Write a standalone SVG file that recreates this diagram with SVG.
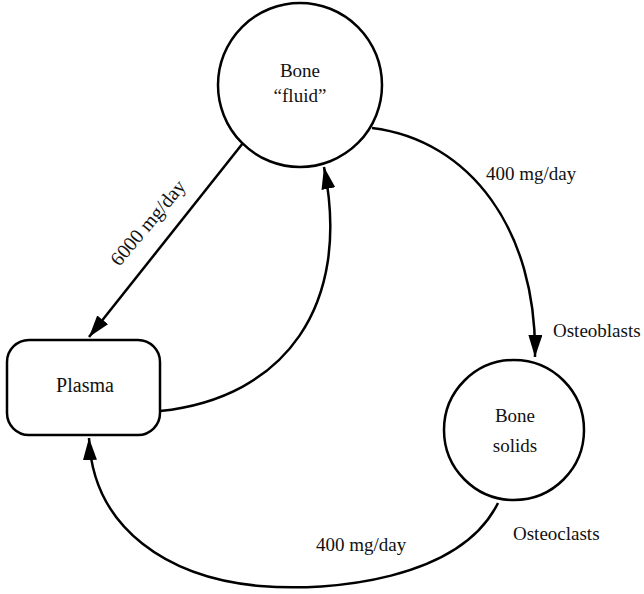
<svg xmlns="http://www.w3.org/2000/svg" width="644" height="594" viewBox="0 0 644 594">
<style>
.node{fill:#fff;stroke:#000;stroke-width:2.5}
.edge{fill:none;stroke:#000;stroke-width:2.5}
text{font-family:"Liberation Serif",serif;font-size:19px;fill:#111}
.c{text-anchor:middle}
</style>
<defs>
<marker id="ah" markerUnits="userSpaceOnUse" markerWidth="24" markerHeight="16" refX="22" refY="7" orient="auto">
<path d="M0,0 L22,7 L0,14 Z" fill="#000"/>
</marker>
</defs>
<rect width="644" height="594" fill="#fff"/>
<g id="edges">
<path class="edge" d="M243,143 L89,337" marker-end="url(#ah)"/>
<path class="edge" d="M160,411 C285,398 352,305 324,167" marker-end="url(#ah)"/>
<path class="edge" d="M372,128 C470,140 537,230 535,357" marker-end="url(#ah)"/>
<path class="edge" d="M498,503 C460,580 330,592 260,586 C170,578 93,530 89,438" marker-end="url(#ah)"/>
<text class="c" transform="translate(153,227) rotate(-50)" style="font-size:20px">6000 mg/day</text>
<text x="486" y="180">400 mg/day</text>
<text x="553" y="337">Osteoblasts</text>
<text x="513" y="540">Osteoclasts</text>
<text x="316" y="551">400 mg/day</text>
</g>
<g id="bone-fluid">
<circle class="node" cx="300" cy="85" r="82"/>
<text class="c" x="300" y="77">Bone</text>
<text class="c" x="300" y="102">“fluid”</text>
</g>
<g id="plasma">
<rect class="node" x="7" y="340" width="153" height="95" rx="22"/>
<text class="c" x="85" y="392" style="font-size:20px">Plasma</text>
</g>
<g id="bone-solids">
<circle class="node" cx="514" cy="430" r="70"/>
<text class="c" x="515" y="422">Bone</text>
<text class="c" x="515" y="452">solids</text>
</g>
</svg>
